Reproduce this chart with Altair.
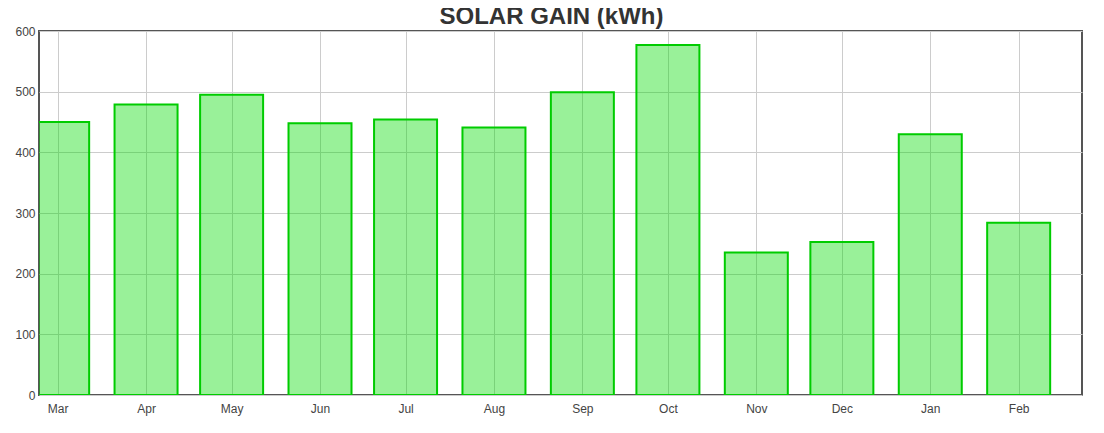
import altair as alt
import pandas as pd

months = ["Mar", "Apr", "May", "Jun", "Jul", "Aug", "Sep", "Oct", "Nov", "Dec", "Jan", "Feb"]
dates = ["2023-03-01", "2023-04-01", "2023-05-01", "2023-06-01", "2023-07-01", "2023-08-01",
         "2023-09-01", "2023-10-01", "2023-11-01", "2023-12-01", "2024-01-01", "2024-02-01"]
values = [450, 479, 495, 448, 454, 441, 499, 577, 235, 252, 430, 284]
y_ticks = [0, 100, 200, 300, 400, 500, 600]

df = pd.DataFrame({"month": months, "date": dates, "kwh": values})

tick_dates = [alt.DateTime(year=int(d[:4]), month=int(d[5:7]), date=1, utc=True) for d in dates]

chart = alt.Chart(df).mark_bar(
    size=63,
    fill="#00dc00",
    fillOpacity=0.4,
    stroke="#00cc00",
    strokeWidth=2,
    clip=True,
).encode(
    x=alt.X(
        "date:T",
        scale=alt.Scale(type="utc", padding=0, nice=False, domain=[
            alt.DateTime(year=2023, month=2, date=22, hours=11, utc=True),
            alt.DateTime(year=2024, month=2, date=23, hours=5, utc=True),
        ]),
        axis=alt.Axis(
            title=None, values=tick_dates, format="%b", ticks=False, domain=False,
            labelPadding=8, labelFontSize=12, labelColor="#444", labelFont="Liberation Sans",
            grid=True, gridColor="#cccccc", labelOverlap=False, labelFlush=False,
        ),
    ),
    y=alt.Y(
        "kwh:Q",
        scale=alt.Scale(domain=[0, 600], nice=False),
        axis=alt.Axis(
            title=None, values=y_ticks, ticks=False, domain=False, labelPadding=4,
            labelFontSize=12, labelColor="#444", labelFont="Liberation Sans",
            grid=True, gridColor="#cccccc", labelOverlap=False, labelFlush=False,
        ),
    ),
).properties(
    width=1043,
    height=364,
    autosize=alt.AutoSizeParams(type="none"),
    padding={"left": 31, "top": 23, "right": 14, "bottom": 30},
    title=alt.Title(
        "SOLAR GAIN (kWh)", fontSize=24, fontWeight="bold", color="#333",
        font="Liberation Sans", frame="group", anchor="middle", dx=-9, dy=8,
        offset=4,
    ),
).configure_view(
    stroke="#555555", strokeWidth=2,
)

chart.save("out.html", embed_options={"renderer": "svg", "actions": False})
